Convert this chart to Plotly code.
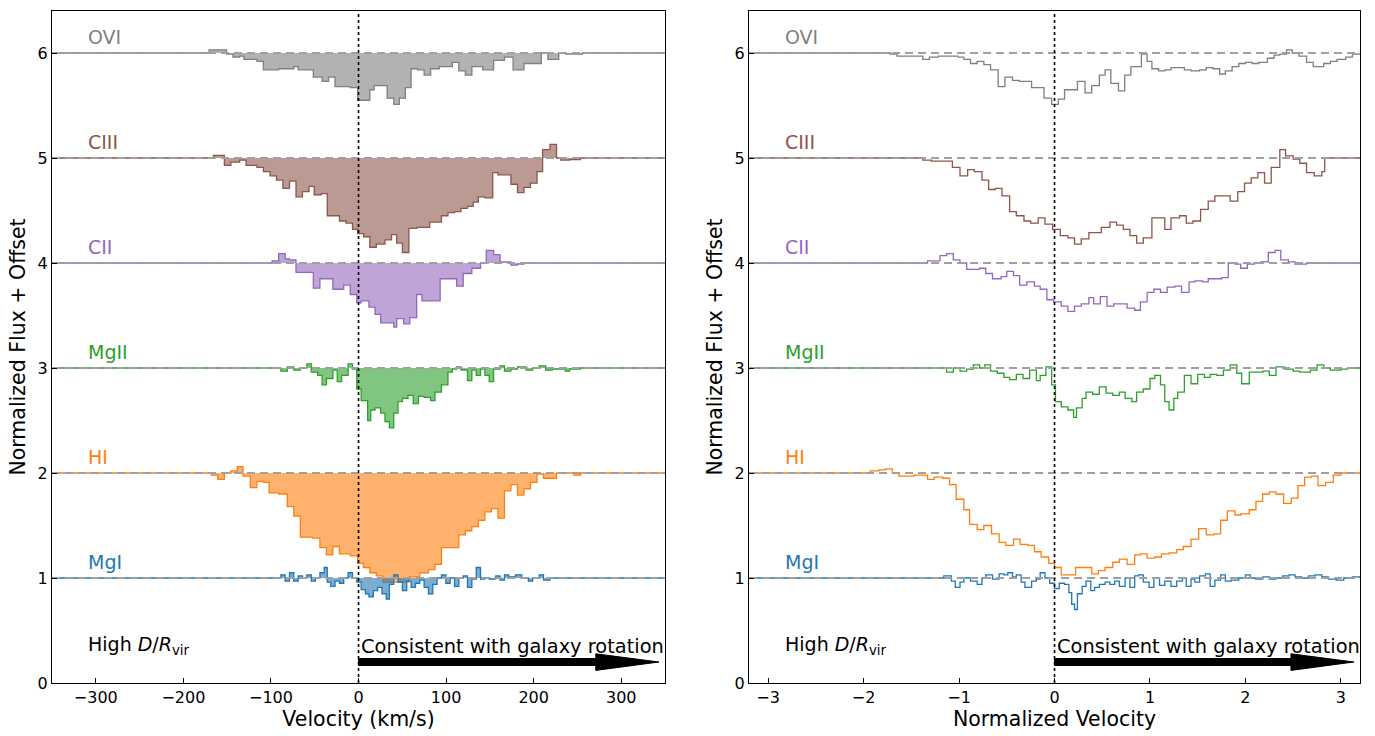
import plotly.graph_objects as go

# ---- left panel: velocity (km/s), step left edges and normalized flux ----
ovi_v = [-170.6, -150.7, -143.3, -135.8, -130.9, -116, -108.6, -91.2, -73.9, -68.9,
         -51.6, -41.6, -34.2, -26.8, -9.4, -1, 12.9, 17.8, 32.7, 40.2,
         46.6, 53.5, 60, 67.4, 74.9, 82.3, 92.2, 107.1, 114.5, 122,
         129.4, 141.8, 154.2, 166.6, 176.5, 188.9, 196.3, 208.7, 216.2, 228.6,
         236, 255.8]
ovi_f = [1.03, 0.99, 0.96, 0.97, 0.94, 0.92, 0.84, 0.85, 0.87, 0.84,
         0.77, 0.73, 0.77, 0.68, 0.67, 0.55, 0.65, 0.69, 0.57, 0.51,
         0.57, 0.67, 0.85, 0.84, 0.79, 0.85, 0.87, 0.91, 0.83, 0.79,
         0.87, 0.84, 0.93, 0.96, 0.84, 0.90, 0.90, 1.00, 0.94, 1.00,
         0.99, 1.0]

ciii_v = [-165.6, -153.2, -145.8, -135.8, -128.4, -116, -108.6, -101.1, -93.7, -86.3,
          -78.8, -71.4, -64, -56.5, -50.6, -42.6, -35.7, -29.3, -21.8, -14.4,
          -6.9, -1, 5.9, 12.9, 20.3, 30.2, 37.7, 43.6, 50.1, 57.5,
          66.4, 74.9, 81.3, 87.3, 94.7, 102.1, 109.6, 117, 124.4, 130.9,
          136.8, 144.3, 153.2, 159.2, 166.6, 174, 181.5, 188.9, 196.3, 203.8,
          210.2, 218.6, 226.1, 231, 241, 253.4]
ciii_f = [1.025, 0.93, 0.96, 0.98, 0.93, 0.91, 0.87, 0.83, 0.79, 0.71,
          0.78, 0.63, 0.68, 0.73, 0.65, 0.66, 0.45, 0.45, 0.40, 0.38,
          0.32, 0.28, 0.25, 0.15, 0.18, 0.22, 0.27, 0.19, 0.10, 0.33,
          0.34, 0.34, 0.39, 0.39, 0.45, 0.48, 0.49, 0.52, 0.54, 0.58,
          0.63, 0.62, 0.86, 0.84, 0.84, 0.75, 0.67, 0.72, 0.76, 0.87,
          1.08, 1.13, 1.0, 0.98, 0.985, 1.0]

cii_v = [-98.7, -91.2, -83.8, -78.8, -71.4, -51.6, -44.1, -29.3, -16.9, -9.4,
         -2, 3, 11.9, 18.8, 25.3, 40.2, 43.6, 51.6, 58.5, 66.4,
         72.4, 93.2, 112, 119.5, 129.4, 139.3, 145.8, 154.2, 161.6, 174,
         181.5, 188.9]
cii_f = [1.02, 1.09, 1.04, 1.03, 0.91, 0.76, 0.85, 0.75, 0.79, 0.70,
         0.62, 0.64, 0.58, 0.51, 0.43, 0.39, 0.47, 0.42, 0.48, 0.70,
         0.64, 0.85, 0.78, 0.90, 0.95, 1.0, 1.12, 1.08, 1.01, 0.98,
         0.99, 1.0]

mgii_v = [-88.7, -81.3, -73.9, -66.4, -59, -54, -46.6, -41.6, -36.7, -29.3,
          -24.3, -19.3, -11.9, -6.9, -2, 3, 10.4, 13.9, 18.8, 25.3,
          30.2, 35.2, 40.2, 45.1, 50.1, 56.5, 62.5, 68.4, 74.9, 82.3,
          87.3, 94.7, 102.1, 107.1, 112, 117, 124.4, 129.4, 134.4, 139.3,
          144.3, 149.2, 154.2, 161.6, 166.6, 174, 181.5, 191.4, 198.8, 206.3,
          213.7, 221.1, 236, 241, 253.4]
mgii_f = [0.97, 1.01, 0.98, 1.0, 1.04, 0.96, 0.93, 0.84, 0.90, 0.98,
          0.87, 0.93, 1.04, 0.99, 0.80, 0.69, 0.50, 0.60, 0.62, 0.57,
          0.49, 0.43, 0.57, 0.68, 0.71, 0.74, 0.66, 0.73, 0.72, 0.69,
          0.77, 0.84, 0.96, 0.99, 1.01, 0.98, 0.88, 0.98, 0.93, 0.99,
          0.93, 0.87, 0.99, 1.02, 0.97, 0.99, 1.01, 0.98, 1.0, 1.02,
          0.98, 0.99, 0.97, 0.99, 1.0]

hi_v = [-168.1, -160.6, -153.2, -145.8, -138.3, -131.9, -123.5, -116, -108.6, -102.1,
        -91.2, -81.3, -73.9, -66.4, -52.6, -44.1, -36.7, -29.3, -21.8, -9.4,
        -1, 5.5, 12.9, 20.3, 27.8, 57.5, 69.9, 79.8, 87.3, 94.7,
        114.5, 122, 129.4, 136.8, 144.3, 151.7, 159.2, 166.6, 174, 181.5,
        188.9, 196.3, 203.8, 211.2, 226.1, 233.5, 245.9, 253.4]
hi_f = [0.98, 0.94, 1.0, 1.02, 1.06, 0.97, 0.86, 0.92, 0.91, 0.81,
        0.80, 0.68, 0.59, 0.39, 0.38, 0.29, 0.22, 0.30, 0.23, 0.21,
        0.14, 0.10, 0.05, 0.02, -0.04, 0.01, 0.05, 0.08, 0.13, 0.29,
        0.41, 0.45, 0.49, 0.55, 0.63, 0.66, 0.57, 0.83, 0.89, 0.79,
        0.85, 0.91, 0.99, 0.95, 1.0, 1.0, 0.98, 1.0]

mgi_v = [-88.7, -83.8, -78.8, -73.9, -68.9, -64, -59, -54, -49.1, -44.1,
         -39.2, -35.7, -31.7, -26.8, -21.8, -16.9, -11.9, -6.9, -2, 3,
         7.9, 11.9, 16.9, 21.8, 26.8, 31.7, 35.2, 40.2, 45.1, 50.1,
         55, 60, 65, 69.9, 74.9, 79.8, 84.8, 89.7, 94.7, 99.7,
         104.6, 109.6, 114.5, 119.5, 124.4, 129.4, 134.4, 139.3, 144.3, 149.2,
         156.7, 161.6, 166.6, 171.5, 179, 186.4, 193.9, 198.8, 206.3, 211.2,
         218.6]
mgi_f = [1.03, 0.97, 1.05, 0.97, 1.02, 1.0, 1.03, 0.97, 1.0, 1.05,
         1.10, 0.96, 0.92, 0.97, 0.95, 1.0, 1.05, 1.0, 0.96, 0.89,
         0.85, 0.82, 0.88, 0.91, 0.85, 0.80, 0.94, 1.03, 0.96, 0.88,
         0.97, 0.91, 0.95, 0.98, 0.91, 0.85, 0.94, 1.0, 1.03, 0.95,
         1.0, 0.92, 1.0, 1.02, 0.91, 0.99, 1.10, 0.99, 1.0, 0.99,
         1.02, 0.98, 1.03, 1.01, 1.03, 1.0, 0.97, 1.0, 1.03, 0.98,
         1.0]

# ---- right panel: normalized velocity ----
ovi_u = [-1.72, -1.65, -1.38, -1.31, -1.22, -1.01, -0.95, -0.88, -0.81, -0.74,
         -0.67, -0.59, -0.52, -0.44, -0.37, -0.24, -0.11, -0.03, 0.04, 0.105,
         0.17, 0.24, 0.32, 0.39, 0.47, 0.53, 0.59, 0.67, 0.735, 0.80,
         0.91, 0.97, 1.02, 1.09, 1.155, 1.22, 1.36, 1.43, 1.52, 1.59,
         1.66, 1.73, 1.79, 1.86, 1.93, 2.0, 2.07, 2.14, 2.23, 2.30,
         2.36, 2.43, 2.49, 2.56, 2.64, 2.71, 2.82, 2.89, 2.96, 3.05,
         3.12]
ovi_g = [0.99, 0.97, 0.94, 0.96, 0.97, 0.96, 0.94, 0.90, 0.92, 0.89,
         0.84, 0.68, 0.77, 0.74, 0.73, 0.67, 0.57, 0.51, 0.56, 0.65,
         0.65, 0.73, 0.62, 0.69, 0.79, 0.84, 0.71, 0.64, 0.79, 0.87,
         0.99, 0.92, 0.85, 0.83, 0.84, 0.86, 0.84, 0.83, 0.84, 0.86,
         0.85, 0.80, 0.83, 0.87, 0.90, 0.91, 0.90, 0.91, 0.95, 0.98,
         0.99, 1.03, 1.0, 0.97, 0.91, 0.87, 0.90, 0.92, 0.94, 0.96,
         0.99]

ciii_u = [-1.38, -1.29, -1.15, -1.07, -0.99, -0.91, -0.84, -0.76, -0.69, -0.62,
          -0.55, -0.47, -0.40, -0.32, -0.25, -0.17, -0.10, -0.02, 0.06, 0.14,
          0.21, 0.28, 0.36, 0.49, 0.58, 0.65, 0.72, 0.79, 0.86, 0.93,
          1.02, 1.155, 1.22, 1.31, 1.38, 1.45, 1.53, 1.61, 1.68, 1.76,
          1.84, 1.92, 1.99, 2.06, 2.13, 2.20, 2.27, 2.36, 2.42, 2.50,
          2.57, 2.64, 2.72, 2.80, 2.83]
ciii_g = [0.98, 0.97, 0.97, 0.91, 0.83, 0.89, 0.87, 0.79, 0.70, 0.71,
          0.64, 0.49, 0.45, 0.40, 0.38, 0.43, 0.37, 0.32, 0.26, 0.24,
          0.18, 0.23, 0.29, 0.34, 0.39, 0.36, 0.32, 0.26, 0.19, 0.24,
          0.43, 0.32, 0.43, 0.45, 0.38, 0.40, 0.51, 0.59, 0.64, 0.64,
          0.59, 0.68, 0.76, 0.81, 0.86, 0.76, 0.91, 1.08, 1.02, 0.99,
          0.95, 0.86, 0.83, 0.87, 1.0]

cii_u = [-1.33, -1.20, -1.13, -1.06, -0.99, -0.92, -0.785, -0.72, -0.65, -0.56,
         -0.50, -0.43, -0.365, -0.29, -0.21, -0.15, -0.08, -0.01, 0.07, 0.14,
         0.21, 0.28, 0.36, 0.41, 0.48, 0.55, 0.62, 0.76, 0.84, 0.90,
         0.97, 1.04, 1.11, 1.18, 1.26, 1.33, 1.41, 1.47, 1.55, 1.61,
         1.68, 1.75, 1.82, 1.89, 1.95, 2.02, 2.09, 2.16, 2.24, 2.31,
         2.37, 2.45, 2.52, 2.64]
cii_g = [1.02, 1.07, 1.09, 1.03, 1.0, 0.94, 0.95, 0.90, 0.85, 0.87,
         0.92, 0.88, 0.79, 0.82, 0.78, 0.75, 0.65, 0.63, 0.59, 0.54,
         0.59, 0.61, 0.67, 0.61, 0.68, 0.59, 0.61, 0.57, 0.55, 0.63,
         0.72, 0.75, 0.72, 0.77, 0.78, 0.72, 0.82, 0.83, 0.82, 0.85,
         0.85, 0.86, 1.0, 0.99, 0.95, 0.99, 1.0, 1.01, 1.10, 1.12,
         1.03, 1.01, 0.99, 1.0]

mgii_u = [-1.13, -1.06, -0.99, -0.92, -0.85, -0.785, -0.73, -0.67, -0.60, -0.53,
          -0.47, -0.40, -0.33, -0.26, -0.19, -0.15, -0.09, -0.03, 0.01, 0.07,
          0.14, 0.20, 0.23, 0.29, 0.33, 0.40, 0.47, 0.54, 0.61, 0.68,
          0.74, 0.81, 0.86, 0.93, 1.0, 1.05, 1.11, 1.155, 1.20, 1.25,
          1.29, 1.36, 1.43, 1.50, 1.57, 1.63, 1.70, 1.77, 1.84, 1.91,
          1.96, 2.04, 2.10, 2.18, 2.25, 2.32, 2.41, 2.50, 2.57, 2.68,
          2.75, 2.82, 2.89, 3.0, 3.07]
mgii_g = [0.96, 1.0, 0.97, 0.99, 1.03, 1.0, 1.03, 0.97, 0.95, 0.91,
          0.89, 0.94, 0.90, 0.98, 0.88, 0.93, 1.01, 0.84, 0.68, 0.63,
          0.60, 0.53, 0.62, 0.71, 0.77, 0.75, 0.82, 0.76, 0.74, 0.77,
          0.71, 0.68, 0.77, 0.80, 0.90, 0.93, 0.84, 0.68, 0.60, 0.71,
          0.77, 0.93, 0.85, 0.94, 0.91, 0.94, 0.93, 0.98, 1.03, 0.95,
          0.85, 0.96, 0.96, 0.97, 0.93, 1.01, 0.99, 0.97, 0.96, 0.98,
          1.03, 1.0, 0.98, 0.99, 1.0]

hi_u = [-1.93, -1.84, -1.77, -1.70, -1.63, -1.47, -1.33, -1.26, -1.17, -1.10,
        -1.03, -0.95, -0.89, -0.81, -0.74, -0.66, -0.58, -0.51, -0.43, -0.36,
        -0.28, -0.21, -0.14, -0.06, 0.0, 0.07, 0.22, 0.31, 0.39, 0.46,
        0.53, 0.61, 0.68, 0.76, 0.84, 0.90, 0.97, 1.05, 1.12, 1.20,
        1.28, 1.35, 1.43, 1.51, 1.59, 1.67, 1.74, 1.81, 1.89, 1.95,
        2.04, 2.11, 2.18, 2.25, 2.32, 2.40, 2.48, 2.55, 2.62, 2.69,
        2.76, 2.84, 2.92, 3.0]
hi_g = [1.02, 1.03, 1.04, 1.0, 0.97, 0.98, 0.94, 0.96, 0.95, 0.89,
        0.75, 0.65, 0.51, 0.46, 0.50, 0.42, 0.34, 0.31, 0.37, 0.32,
        0.31, 0.25, 0.20, 0.14, 0.10, 0.03, 0.10, 0.10, 0.04, 0.07,
        0.10, 0.15, 0.18, 0.13, 0.22, 0.23, 0.19, 0.20, 0.23, 0.24,
        0.27, 0.30, 0.37, 0.47, 0.41, 0.42, 0.55, 0.64, 0.60, 0.61,
        0.65, 0.73, 0.80, 0.82, 0.80, 0.71, 0.76, 0.88, 0.96, 0.97,
        0.88, 0.91, 0.98, 1.0]

mgi_u = [-1.16, -1.08, -1.04, -0.99, -0.95, -0.88, -0.81, -0.76, -0.72, -0.65,
         -0.58, -0.53, -0.49, -0.44, -0.40, -0.35, -0.31, -0.24, -0.19, -0.15,
         -0.10, -0.05, 0.0, 0.05, 0.105, 0.15, 0.18, 0.21, 0.24, 0.29,
         0.33, 0.38, 0.42, 0.47, 0.53, 0.58, 0.63, 0.68, 0.74, 0.79,
         0.84, 0.88, 0.93, 0.99, 1.04, 1.10, 1.155, 1.22, 1.28, 1.34,
         1.38, 1.43, 1.47, 1.52, 1.58, 1.63, 1.68, 1.74, 1.79, 1.85,
         1.93, 2.0, 2.05, 2.11, 2.18, 2.25, 2.32, 2.39, 2.46, 2.52,
         2.59, 2.66, 2.73, 2.80, 2.87, 2.95, 3.03, 3.12]
mgi_g = [1.02, 0.97, 0.91, 0.96, 1.0, 0.97, 0.94, 1.0, 1.03, 0.99,
         1.04, 1.03, 1.05, 1.01, 1.03, 0.96, 0.91, 0.97, 0.99, 1.05,
         1.0, 0.95, 0.90, 0.95, 0.94, 0.86, 0.75, 0.70, 0.85, 0.92,
         0.97, 0.88, 0.91, 0.94, 0.96, 0.94, 0.97, 0.92, 1.0, 0.91,
         1.02, 1.03, 0.96, 0.91, 1.0, 0.93, 0.97, 0.92, 0.97, 1.0,
         0.92, 0.99, 0.96, 1.02, 1.04, 0.92, 0.98, 1.03, 0.97, 0.98,
         1.0, 1.03, 1.0, 0.99, 1.01, 0.99, 1.0, 1.02, 1.03, 1.01,
         1.0, 1.02, 1.03, 1.01, 0.99, 0.98, 1.0, 1.01]

species = ["OVI", "CIII", "CII", "MgII", "HI", "MgI"]
offsets = [5, 4, 3, 2, 1, 0]
colors = ["#7f7f7f", "#8c564b", "#9467bd", "#2ca02c", "#ff7f0e", "#1f77b4"]
left_data = [(ovi_v, ovi_f), (ciii_v, ciii_f), (cii_v, cii_f),
             (mgii_v, mgii_f), (hi_v, hi_f), (mgi_v, mgi_f)]
right_data = [(ovi_u, ovi_g), (ciii_u, ciii_g), (cii_u, cii_g),
              (mgii_u, mgii_g), (hi_u, hi_g), (mgi_u, mgi_g)]

XL = [-350, 350]
XR = [-3.2, 3.2]
FONT = "DejaVu Sans"


def rgba(hexc, a):
    h = hexc.lstrip("#")
    return "rgba(%d,%d,%d,%.2f)" % (int(h[0:2], 16), int(h[2:4], 16), int(h[4:6], 16), a)


fig = go.Figure()

for i, name in enumerate(species):
    off = offsets[i]
    c = colors[i]
    # left: filled between spectrum and continuum
    v, f = left_data[i]
    xs = [XL[0]] + v + [XL[1]]
    ys = [1 + off] + [fi + off for fi in f] + [1 + off]
    fig.add_trace(go.Scatter(x=XL, y=[1 + off, 1 + off], mode="lines",
                             line=dict(width=0), hoverinfo="skip",
                             xaxis="x", yaxis="y"))
    fig.add_trace(go.Scatter(x=xs, y=ys, mode="lines", line_shape="hv",
                             line=dict(color=c, width=1.3), fill="tonexty",
                             fillcolor=rgba(c, 0.6), xaxis="x", yaxis="y"))
    # right: line only
    u, g = right_data[i]
    xs = [XR[0]] + u + [XR[1]]
    ys = [1 + off] + [gi + off for gi in g] + [1 + off]
    fig.add_trace(go.Scatter(x=xs, y=ys, mode="lines", line_shape="hv",
                             line=dict(color=c, width=1.3),
                             xaxis="x2", yaxis="y2"))

# dashed continuum lines on top
for ax, rng in (("", XL), ("2", XR)):
    for off in offsets:
        fig.add_trace(go.Scatter(x=rng, y=[1 + off, 1 + off], mode="lines",
                                 line=dict(color="#a0a0a0", width=2, dash="8px,5px"),
                                 xaxis="x" + ax, yaxis="y" + ax))

shapes = []
annotations = []
for ax, rng in (("", XL), ("2", XR)):
    xr, yr = "x" + ax, "y" + ax
    shapes.append(dict(type="line", xref=xr, yref=yr + " domain", x0=0, x1=0, y0=0, y1=1,
                       line=dict(color="black", width=1.6, dash="dot")))
    span = rng[1] - rng[0]
    tip = rng[0] + span * 0.99
    base = rng[0] + span * 0.887
    path = "M 0 0.167 L %g 0.167 L %g 0.12 L %g 0.2 L %g 0.278 L %g 0.233 L 0 0.233 Z" % (
        base, base, tip, base, base)
    shapes.append(dict(type="path", xref=xr, yref=yr, path=path,
                       fillcolor="black", line=dict(color="black", width=1)))
    for i, name in enumerate(species):
        annotations.append(dict(xref=xr + " domain", yref=yr, x=0.056, y=offsets[i] + 1.15,
                                text=name, showarrow=False, xanchor="left", yanchor="middle",
                                font=dict(family=FONT, size=19, color=colors[i])))
    annotations.append(dict(xref=xr + " domain", yref=yr, x=0.056, y=0.36,
                            text="High <i>D</i>/<i>R</i><sub>vir</sub>", showarrow=False,
                            xanchor="left", yanchor="middle",
                            font=dict(family=FONT, size=19, color="black")))
    annotations.append(dict(xref=xr, yref=yr, x=0, y=0.35,
                            text="Consistent with galaxy rotation", showarrow=False,
                            xanchor="left", yanchor="middle",
                            font=dict(family=FONT, size=19.4, color="black")))

axis_style = dict(showline=True, linecolor="black", linewidth=1.1, mirror=True,
                  ticks="inside", ticklen=5, tickwidth=1, tickcolor="black",
                  showgrid=False, zeroline=False,
                  tickfont=dict(family=FONT, size=16, color="black"),
                  title_font=dict(family=FONT, size=20.5, color="black"))

fig.update_layout(
    width=1375, height=736, showlegend=False,
    plot_bgcolor="white", paper_bgcolor="white",
    margin=dict(l=52, r=15, t=10, b=49),
    shapes=shapes, annotations=annotations,
    xaxis=dict(domain=[0, 0.4687], range=XL, tickvals=[-300, -200, -100, 0, 100, 200, 300],
               title=dict(text="Velocity (km/s)", standoff=4), anchor="y", **axis_style),
    yaxis=dict(domain=[0, 1], range=[0, 6.4], tickvals=[0, 1, 2, 3, 4, 5, 6],
               title=dict(text="Normalized Flux + Offset", standoff=6), anchor="x", **axis_style),
    xaxis2=dict(domain=[0.5329, 1], range=XR, tickvals=[-3, -2, -1, 0, 1, 2, 3],
                title=dict(text="Normalized Velocity", standoff=4), anchor="y2", **axis_style),
    yaxis2=dict(domain=[0, 1], range=[0, 6.4], tickvals=[0, 1, 2, 3, 4, 5, 6],
                title=dict(text="Normalized Flux + Offset", standoff=6), anchor="x2", **axis_style),
)

fig.write_html("out.html", config={"displayModeBar": False},
               post_script="document.body.style.margin='0px';")
